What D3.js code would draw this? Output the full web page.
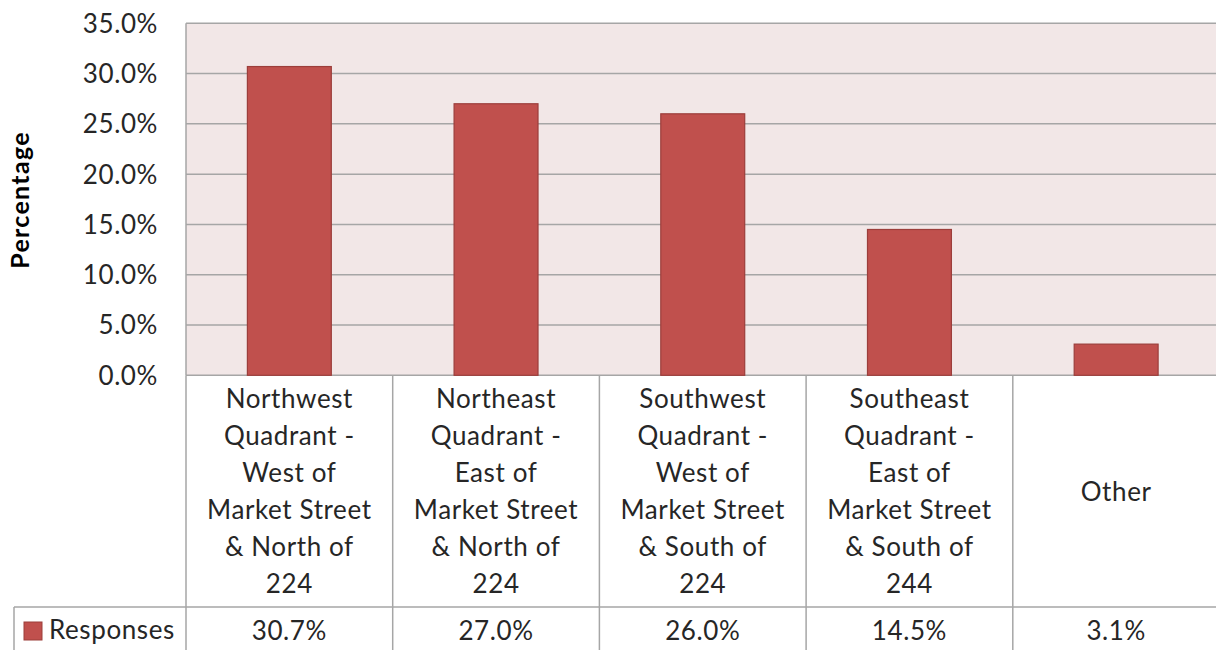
<!DOCTYPE html>
<html><head><meta charset="utf-8">
<script src="https://cdn.jsdelivr.net/npm/d3@7"></script>
<style>body{margin:0;background:#fff;}svg{display:block;font-family:Lato,"Open Sans",sans-serif;}</style>
</head><body>
<svg id="c" width="1216" height="650"></svg>
<script>
const categories = [
  ["Northwest","Quadrant -","West of","Market Street","& North of","224"],
  ["Northeast","Quadrant -","East of","Market Street","& North of","224"],
  ["Southwest","Quadrant -","West of","Market Street","& South of","224"],
  ["Southeast","Quadrant -","East of","Market Street","& South of","244"],
  ["Other"]
];
const values = [30.7, 27.0, 26.0, 14.5, 3.1];
const seriesName = "Responses";
const yTicks = [0,5,10,15,20,25,30,35];

const svg = d3.select("#c");
const L = 186, R = 1219.5, T = 23.3, B = 375.3;
const keys = categories.map((c,i)=>i);
const x = d3.scaleBand().domain(keys).range([L,R]).padding(0);
const y = d3.scaleLinear().domain([0,35]).range([B,T]);
const grid = "#a6a6a6";
const fs = 26, ls = "0.6px", txt = "#262626";

// plot background
svg.append("rect").attr("x",L).attr("y",T).attr("width",R-L).attr("height",B-T).attr("fill","#f2e7e7");
// gridlines
svg.append("g").selectAll("line").data(yTicks).join("line")
  .attr("x1",L).attr("x2",R).attr("y1",d=>y(d)).attr("y2",d=>y(d))
  .attr("stroke",grid).attr("stroke-width",1.5);
svg.append("line").attr("x1",L).attr("x2",L).attr("y1",T).attr("y2",B).attr("stroke",grid).attr("stroke-width",1.5);

// bars
const barFrac = 0.406;
svg.append("g").selectAll("rect").data(values).join("rect")
  .attr("x",(d,i)=>x(i)+x.bandwidth()*(1-barFrac)/2)
  .attr("width",x.bandwidth()*barFrac)
  .attr("y",d=>y(d)).attr("height",d=>B-y(d))
  .attr("fill","#c0504d").attr("stroke","#9c3e3b").attr("stroke-width",1.2);

// y axis labels
const yAxis = d3.axisLeft(y).tickValues(yTicks).tickFormat(d=>d.toFixed(1)+"%").tickSize(0).tickPadding(0);
const ga = svg.append("g").attr("transform",`translate(158,0)`).call(yAxis);
ga.select(".domain").remove();
ga.selectAll("text").attr("font-size",fs).attr("letter-spacing",ls).attr("fill",txt).attr("font-family","Lato,sans-serif").attr("dy","0.34em");

// y title
svg.append("text").attr("transform","translate(29,200) rotate(-90)").attr("text-anchor","middle")
  .attr("font-weight","bold").attr("font-size",25).attr("letter-spacing","1.3px").attr("fill","#000").text("Percentage");

// data table
const tb = 607, bottom = 660;
const tg = svg.append("g").attr("stroke",grid).attr("stroke-width",1.5);
keys.forEach(i=>{
  tg.append("line").attr("x1",x(i)).attr("x2",x(i)).attr("y1",B).attr("y2",bottom);
});
tg.append("line").attr("x1",R).attr("x2",R).attr("y1",B).attr("y2",bottom);
tg.append("line").attr("x1",14).attr("x2",R).attr("y1",tb).attr("y2",tb);
tg.append("line").attr("x1",14).attr("x2",14).attr("y1",tb).attr("y2",bottom);

// category labels
const lh = 37, mid = (B+tb)/2;
const cl = svg.append("g").attr("font-size",fs).attr("letter-spacing",ls).attr("fill",txt).attr("text-anchor","middle");
categories.forEach((lines,i)=>{
  const cx = x(i)+x.bandwidth()/2;
  const y0 = mid - (lines.length-1)*lh/2;
  lines.forEach((t,j)=>{
    cl.append("text").attr("x",cx).attr("y",y0+j*lh).attr("dy","0.36em").text(t);
  });
});
// values row
const vr = svg.append("g").attr("font-size",fs).attr("letter-spacing",ls).attr("fill",txt).attr("text-anchor","middle");
values.forEach((v,i)=>{
  vr.append("text").attr("x",x(i)+x.bandwidth()/2).attr("y",631).attr("dy","0.36em").text(v.toFixed(1)+"%");
});
// legend key
svg.append("rect").attr("x",24).attr("y",622).attr("width",18).attr("height",18).attr("fill","#c0504d").attr("stroke","#9c3e3b");
svg.append("text").attr("x",49).attr("y",630).attr("dy","0.36em").attr("font-size",fs).attr("letter-spacing",ls).attr("fill",txt).text(seriesName);
</script>
</body></html>
